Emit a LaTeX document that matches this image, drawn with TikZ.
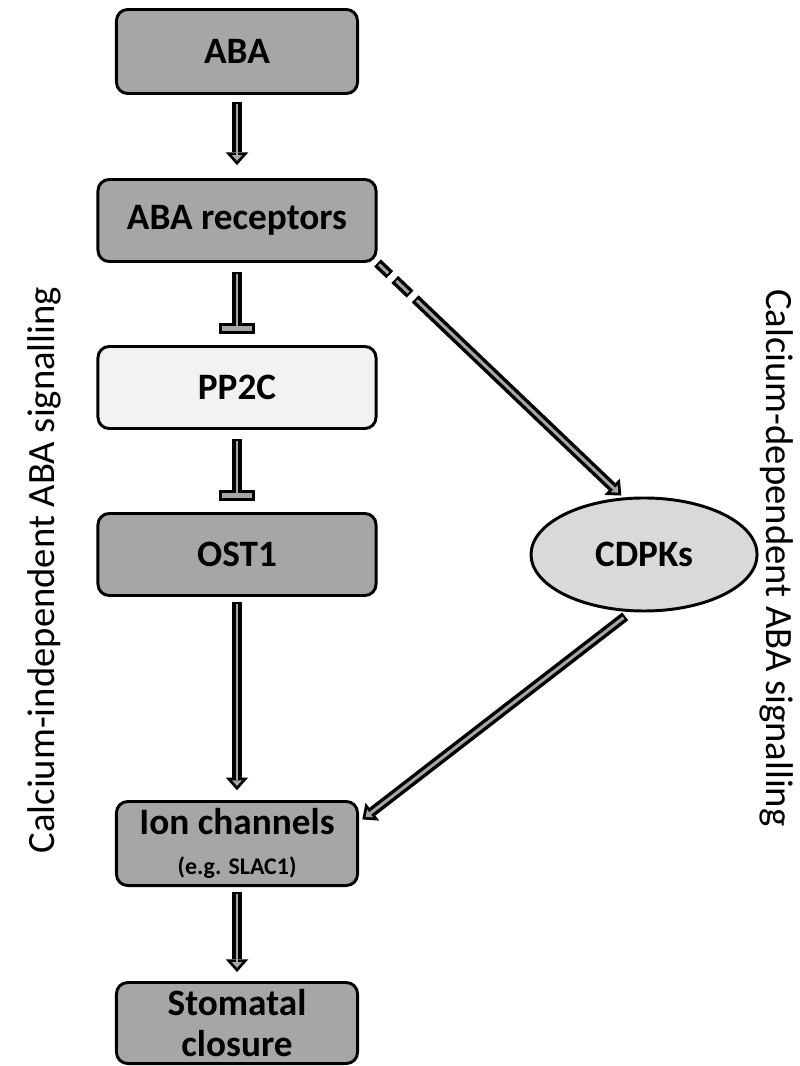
\documentclass[tikz,border=0pt]{standalone}
\usepackage{fontspec}
\setmainfont{Carlito}
\usetikzlibrary{positioning,arrows.meta,shapes.geometric}

\definecolor{darkbox}{RGB}{166,166,166}
\definecolor{palebox}{RGB}{242,242,242}
\definecolor{kinase}{RGB}{217,217,217}

\tikzset{
  box/.style={draw, line width=2.1pt, rounded corners=8pt, fill=darkbox,
    minimum width=6.025cm, minimum height=2.1cm, inner sep=2pt, align=center,
    font=\bfseries\fontsize{26.5}{28.5}\selectfont},
  widebox/.style={box, minimum width=6.95cm, minimum height=2.05cm},
  kin/.style={ellipse, draw, line width=2.1pt, fill=kinase, minimum width=5.65cm,
    minimum height=2.825cm, inner sep=0pt, font=\bfseries\fontsize{26.5}{28.5}\selectfont},
  sidelab/.style={font=\fontsize{27.5}{30}\selectfont, inner sep=0pt},
  actout/.style={color=black, line width=7pt, -{Triangle[length=9pt, width=16pt, line width=0pt]}},
  actin/.style={color=darkbox, line width=2.1pt, -{Triangle[length=4pt, width=7.1pt, line width=0pt]}},
  inhout/.style={color=black, line width=7pt, -{Rectangle[length=7.8pt, width=26pt, line width=0pt]}},
  inhin/.style={color=darkbox, line width=2.1pt, -{Rectangle[length=3.6pt, width=21.8pt, line width=0pt]}},
  dashout/.style={dash pattern=on 12pt off 5pt on 15pt off 5pt on 600pt off 1pt},
  dashin/.style={dash pattern=on 9pt off 8pt on 12pt off 8pt on 600pt off 1pt}
}

\begin{document}
\begin{tikzpicture}[x=0.025cm, y=-0.025cm, node distance=2.075cm]
  \useasboundingbox (0,0) rectangle (800,1066);

  \node[box] (aba) at (237,51.5) {ABA};
  \node[widebox] [below=of aba] (abarec) {ABA receptors};
  \node[widebox, fill=palebox] [below=2.05cm of abarec] (pp2c) {PP2C};
  \node[widebox] [below=2.05cm of pp2c] (ost1) {OST1};
  \node[box] [below=5.075cm of ost1] (ionch)
    {Ion channels\\{\fontsize{17}{21}\selectfont (e.g. SLAC1)}};
  \node[box, minimum height=2.025cm] [below=2.35cm of ionch] (stoma) {Stomatal\\closure};
  \node[kin] [right=3.8cm of ost1] (cdpk) {CDPKs};

  \node[sidelab, rotate=90] (indep) at (44,570) {Calcium-independent ABA signalling};
  \node[sidelab, rotate=-90] (dep) at (777,558) {Calcium-dependent ABA signalling};

  % black outlines
  \path[actout]
    (aba) edge[shorten <=5pt, shorten >=9.2pt] (abarec)
    (ost1) edge[shorten <=3.5pt, shorten >=7pt] (ionch)
    (ionch) edge[shorten <=3.5pt, shorten >=6.4pt] (stoma)
    (abarec.south east) edge[dashout, shorten >=2pt] (cdpk.110)
    (cdpk.257) edge[shorten <=5pt, shorten >=3pt] (ionch.10);
  \path[inhout]
    (abarec) edge[shorten <=6.4pt, shorten >=7.8pt] (pp2c)
    (pp2c) edge[shorten <=6.4pt, shorten >=7.8pt] (ost1);

  % grey cores
  \path[actin]
    (aba) edge[shorten <=6.5pt, shorten >=12.2pt] (abarec)
    (ost1) edge[shorten <=5pt, shorten >=10pt] (ionch)
    (ionch) edge[shorten <=5pt, shorten >=9.4pt] (stoma)
    (abarec.south east) edge[dashin, shorten <=1.5pt, shorten >=5pt] (cdpk.110)
    (cdpk.257) edge[shorten <=6.5pt, shorten >=6pt] (ionch.10);
  \path[inhin]
    (abarec) edge[shorten <=7.9pt, shorten >=9.9pt] (pp2c)
    (pp2c) edge[shorten <=7.9pt, shorten >=9.9pt] (ost1);
\end{tikzpicture}
\end{document}
